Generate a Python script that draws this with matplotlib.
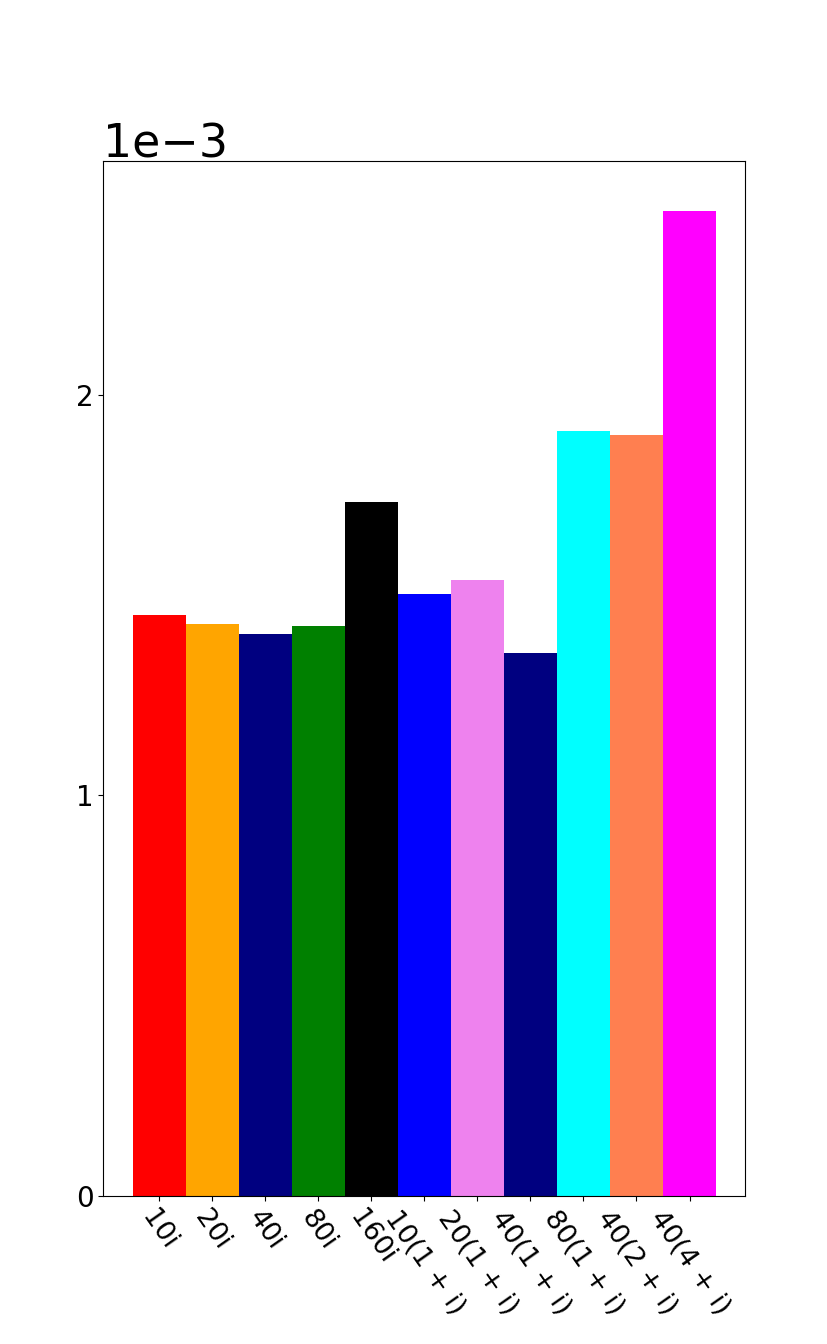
import matplotlib
matplotlib.use("Agg")
import matplotlib.pyplot as plt

labels = ["10i", "20i", "40i", "80i", "160i", "10(1 + i)", "20(1 + i)",
          "40(1 + i)", "80(1 + i)", "40(2 + i)", "40(4 + i)"]
values = [1.451e-3, 1.428e-3, 1.403e-3, 1.423e-3, 1.733e-3, 1.503e-3,
          1.538e-3, 1.356e-3, 1.910e-3, 1.898e-3, 2.459e-3]
colors = ["red", "orange", "navy", "green", "black", "blue", "violet",
          "navy", "cyan", "coral", "magenta"]
yticks = [0, 1e-3, 2e-3]

fig, ax = plt.subplots(figsize=(8.28, 13.44), dpi=100)
x = list(range(len(labels)))
ax.bar(x, values, width=1.0, color=colors)
ax.set_xticks(x)
ax.set_xticklabels(labels, rotation=-55, ha="center", fontsize=19.5)
ax.set_yticks(yticks)
ax.ticklabel_format(axis="y", style="sci", scilimits=(0, 0))
ax.tick_params(axis="y", labelsize=20)
ax.yaxis.get_offset_text().set_fontsize(33)
fig.savefig("out.png", dpi=100)
